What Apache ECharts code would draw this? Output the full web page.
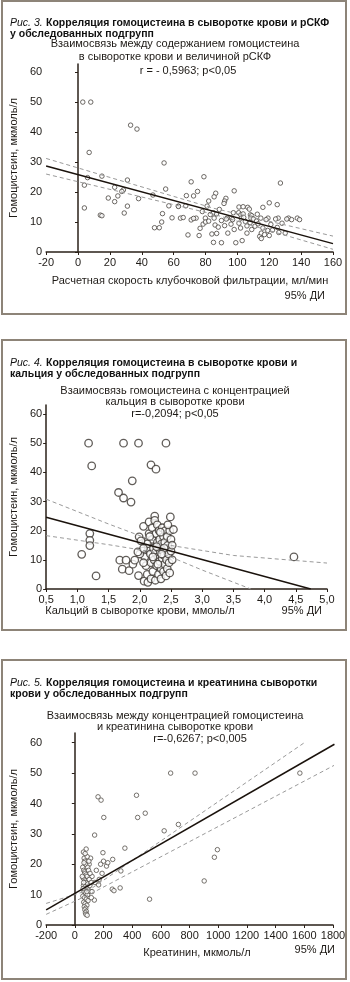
<!DOCTYPE html>
<html><head><meta charset="utf-8">
<script src="https://cdn.jsdelivr.net/npm/echarts@6/dist/echarts.min.js"></script>
<style>html,body{margin:0;padding:0;background:#fff}#c{width:350px;height:982px}</style>
</head><body><div id="c"></div>
<script>
// ---------- Panel 1: homocysteine vs eGFR ----------
const gfrPoints = [[3,50],[8,50],[33,42.3],[37,41],[7,33.2],[54,29.7],[6,24.8],[4,22.3],[15,25.3],[31,24],[23,21.6],[55,21],[28.5,20.7],[27.5,20.2],[19,18],[25,18.7],[38,17.8],[23,16.8],[47,19],[4,14.7],[31,15.3],[29,13],[53,12.8],[63,15.3],[14,12.3],[15,12.1],[48,8.1],[51,8.1],[52.5,10],[59,11.4],[57,15.4],
[79,25.1],[71,23.4],[127,23],[98,20.4],[75,20.2],[68,18.8],[72.5,18.7],[86.4,19.6],[85.4,18.4],[92.8,17.9],[92,17],[91.6,16.2],[82,17],[63,15.2],[67.6,15.4],[81,15.3],[120,16.4],[125,15.8],[116,14.9],[101,15],[103.6,15.1],[106.5,14.9],[107.5,14.3],[88.7,14.2],
[85,13.1],[86.9,12.7],[97.5,13.1],[100.8,13.1],[102.2,12.4],[103.6,12.7],[108.2,12.4],[109,12.1],[112.5,12.6],
[64.3,11.3],[74.1,11.3],[79.9,11.3],[85.4,11.3],[93.6,11.3],[96.3,11.3],[102.4,11.3],[108.5,11.3],[114.7,11.3],[119.2,11.3],[125.6,11.3],[132.1,11.3],[137.6,11.3],
[69,5.7],[71,10.7],[72.5,11.2],[76.6,7.9],[78.5,9.3],[80,10],[82,10.3],[83,12.5],[86,9],[87,6.2],[88,8.3],[85,3.2],[90,10.5],[92,8.8],[93,11],[94,6.3],[96,9.3],[97,10.8],[98,7.5],[99,3.1],[101,9.6],[102,8],[103,3.8],[104,11.5],[105,10.2],[106,8.7],[106,6.3],[108,9.8],[109,7.5],[110,11],[111,8.6],[112,10.3],[113,9.4],[114,5.2],[115,4.5],[115,6.3],[116,8],[117,5.8],[118,10.8],[119,7.2],[120,5.5],[121,9.2],[122,7.3],[124,11],[125,8.2],[126,6.5],[128,9.6],[130,6.3],[131,11],[134,10.8],[139,10.8],[76,5.5],[84,6],[78,13.5],[66,11.5],[90,3.1]];
const gfrFit = [[-20,28.7],[160,2.8]];
const gfrCiUpper = [[-20,31.2],[85,14.6],[160,5.3]];
const gfrCiLower = [[-20,26.0],[85,12.6],[160,0.9]];

// ---------- Panel 2: homocysteine vs calcium ----------
const caPoints = [[1.18,50],[1.74,50],[1.98,50],[2.42,50],[1.23,42.2],[2.18,42.6],[2.26,41.1],[1.88,37.1],[1.66,33.1],[1.74,31.2],[1.86,29.8],[1.07,11.9],[1.2,19],[1.2,16.7],[1.2,14.9],[1.3,4.5],[1.68,9.9],[1.78,9.9],[1.72,6.8],[1.83,6.3],[1.89,8.5],[1.92,9.9],[1.98,4.6],[1.99,17.9],[2.06,21.5],[2.07,2.7],[2.13,2.3],[2.49,24.7],
[2.05,13],[2.08,11],[2.1,16],[2.1,8],[2.12,5],[2.14,14],[2.15,19],[2.15,23],[2.17,12],[2.18,9],[2.18,3.5],[2.2,17],[2.2,21],[2.21,6],[2.22,14],[2.23,10],[2.24,25],[2.24,23.5],[2.25,12.5],[2.25,3],[2.26,19],[2.27,8],[2.28,16],[2.28,22],[2.29,11],[2.3,5],[2.3,14],[2.31,20],[2.32,9.5],[2.32,17],[2.33,12.5],[2.34,7],[2.34,3.5],[2.35,15.5],[2.36,21],[2.36,10.5],[2.37,13],[2.38,18],[2.38,6],[2.39,11.5],[2.4,16],[2.4,8.5],[2.41,20],[2.42,13.5],[2.42,4.5],[2.43,10],[2.44,18],[2.44,7],[2.45,15],[2.46,12],[2.47,9],[2.48,20],[2.48,5.5],[2.5,13],[2.5,17],[2.52,15],[2.54,20.4],[2.52,10],[2.12,15.5],[2.16,18],[2.0,12],[2.02,16.5],[2.06,9],[2.27,14.5],[2.33,19.5],[2.39,14],[2.45,22],[2.35,12],[2.29,8.5],[2.21,11],[1.97,12.7],[2.06,13.9],[4.47,11]];
const caFit = [[0.5,24.6],[4.74,0]];
const caCiUpper = [[0.5,30.8],[1.5,22.3],[2.36,15.4],[3.5,11.5],[5.0,8.9]];
const caCiLower = [[0.5,18.3],[1.5,15.2],[2.36,12.2],[3.0,6.5],[3.78,0]];

// ---------- Panel 3: homocysteine vs creatinine ----------
const crPoints = [[668,50],[838,50],[1569,50],[162,42.2],[183,41.1],[430,42.7],[202,35.4],[438,35.4],[491,36.8],[623,31],[722,33.1],[138,29.6],[349,25.3],[994,24.8],[973,22.3],[902,14.5],[196,23.8],[264,21.6],[321,17.8],[221,19.4],[261,11.8],[273,11.3],[316,12.2],[521,8.5],[166,13.2],[136,8.2],[79,25],[230,20.5],[200,21],[180,20],[150,18],[170,15],[120,16],[110,22],[100,20],[140,14],[190,17],
[60,24],[65,22],[70,21],[75,20],[55,19],[62,18],[68,17.5],[72,17],[80,16.5],[85,16],[58,15.5],[66,15],[74,14.5],[78,14],[90,13.5],[60,13],[70,12.5],[82,12],[95,11.5],[64,11],[76,10.5],[88,10],[56,9.5],[68,9],[80,8.5],[92,8],[62,7.5],[72,7],[84,6.5],[66,6],[76,5.5],[70,5],[80,4.5],[74,4],[78,3.5],[86,3.2],[90,19],[96,18],[100,15],[105,13],[110,11],[115,9],[64,20.5],[58,12],[52,16],[98,21],[86,22.5],[72,23.5],[62,14],[84,11],[106,17],[114,14],[120,11]];
const crFit = [[-200,5.0],[1810,59.5]];
const crCiUpper = [[-200,7.1],[100,11.5],[1600,60]];
const crCiLower = [[-200,3.5],[100,10.0],[1810,52.6]];

const yTicks = [0,10,20,30,40,50,60];

const TXT = '#1e1a16', AX = '#2a2018';
const FONT = '"Liberation Sans", Arial, sans-serif';

function yAxisCfg(grid,max){
  return {gridIndex:grid,type:'value',min:0,max:max,
    name:'Гомоцистеин, мкмоль/л',nameLocation:'middle',nameGap:24,nameRotate:90,
    nameTextStyle:{fontFamily:FONT,fontSize:11,color:TXT},
    axisLine:{show:true,lineStyle:{color:AX,width:1.5}},
    axisTick:{show:true,length:3,lineStyle:{color:AX},customValues:yTicks},
    axisLabel:{fontFamily:FONT,fontSize:11,color:TXT,margin:4,customValues:yTicks},
    splitLine:{show:false}};
}
function xAxisCfg(grid,min,max,interval,fmt){
  return {gridIndex:grid,type:'value',min:min,max:max,interval:interval,
    axisLine:{onZero:false,lineStyle:{color:AX,width:1.5}},
    axisTick:{show:true,length:3,lineStyle:{color:AX}},
    axisLabel:{fontFamily:FONT,fontSize:11,color:TXT,margin:5,formatter:fmt||(v=>String(v)),hideOverlap:false},
    splitLine:{show:false}};
}
function scatter(i,data,size,bw,bc){
  return {type:'scatter',xAxisIndex:i,yAxisIndex:i,data:data,symbol:'circle',symbolSize:size,
    itemStyle:{color:'#fff',borderColor:bc,borderWidth:bw},z:3};
}
function line(i,data,dashed){
  return {type:'line',xAxisIndex:i,yAxisIndex:i,data:data,showSymbol:false,silent:true,
    lineStyle:dashed?{color:'#9a9a9a',width:1,type:[4,3]}:{color:'#1a120c',width:1.5},z:dashed?4:5};
}
function frame(top,h){return {type:'rect',shape:{x:2,y:top,width:344,height:h},style:{fill:'none',stroke:'#8d8478',lineWidth:2},silent:true};}
function title(top,it,rest){
  return {type:'text',left:10,top:top,style:{text:'{i|'+it+'} {b|'+rest+'}',
    rich:{i:{fontFamily:FONT,fontStyle:'italic',fontSize:10.5,fill:'#111'},b:{fontFamily:FONT,fontWeight:'bold',fontSize:10.5,fill:'#111'}}}};
}
function txt(x,y,t,align,size){
  return {type:'text',x:x,y:y,style:{text:t,fontFamily:FONT,fontSize:size||11,fill:TXT,align:align||'center',verticalAlign:'middle'}};
}

const chart = echarts.init(document.getElementById('c'),null,{renderer:'canvas'});
chart.setOption({
  animation:false,
  backgroundColor:'#fff',
  grid:[
    {left:41,top:64,width:292,height:188},
    {left:43,top:405,width:284,height:184},
    {left:44,top:733,width:289,height:192}
  ],
  xAxis:[
    xAxisCfg(0,-20,160,20),
    xAxisCfg(1,0.5,5,0.5,v=>v.toFixed(1).replace('.',',')),
    xAxisCfg(2,-200,1800,200)
  ],
  yAxis:[yAxisCfg(0,62.7),yAxisCfg(1,63.1),yAxisCfg(2,63.2)],
  series:[
    scatter(0,gfrPoints,4.5,1,'#4a4540'),
    line(0,gfrCiUpper,true),line(0,gfrCiLower,true),line(0,gfrFit,false),
    scatter(1,caPoints,7.5,1.3,'#3a3530'),
    line(1,caCiUpper,true),line(1,caCiLower,true),line(1,caFit,false),
    scatter(2,crPoints,4.5,1,'#55504a'),
    line(2,crCiUpper,true),line(2,crCiLower,true),line(2,crFit,false)
  ],
  graphic:[
    frame(1,313), frame(340,290), frame(660,319),
    title(17,'Рис. 3.','Корреляция гомоцистеина в сыворотке крови и рСКФ'),
    {type:'text',left:10,top:29,style:{text:'у обследованных подгрупп',fontFamily:FONT,fontWeight:'bold',fontSize:10.5,fill:'#111'}},
    txt(175,44,'Взаимосвязь между содержанием гомоцистеина'),
    txt(175,57,'в сыворотке крови и величиной рСКФ'),
    txt(188,71,'r = - 0,5963; p<0,05'),
    txt(190,281,'Расчетная скорость клубочковой фильтрации, мл/мин'),
    txt(325,296,'95% ДИ','right'),

    title(357,'Рис. 4.','Корреляция гомоцистеина в сыворотке крови и'),
    {type:'text',left:10,top:369,style:{text:'кальция у обследованных подгрупп',fontFamily:FONT,fontWeight:'bold',fontSize:10.5,fill:'#111'}},
    txt(175,391,'Взаимосвязь гомоцистеина с концентрацией'),
    txt(175,402,'кальция в сыворотке крови'),
    txt(175,414,'r=-0,2094; p<0,05'),
    txt(140,611,'Кальций в сыворотке крови, ммоль/л'),
    txt(322,611,'95% ДИ','right'),

    title(677,'Рис. 5.','Корреляция гомоцистеина и креатинина сыворотки'),
    {type:'text',left:10,top:689,style:{text:'крови у обследованных подгрупп',fontFamily:FONT,fontWeight:'bold',fontSize:10.5,fill:'#111'}},
    txt(175,716,'Взаимосвязь между концентрацией гомоцистеина'),
    txt(175,727,'и креатинина сыворотке крови'),
    txt(200,739,'r=-0,6267; p<0,005'),
    txt(197,953,'Креатинин, мкмоль/л'),
    txt(335,950,'95% ДИ','right')
  ]
});
</script></body></html>
